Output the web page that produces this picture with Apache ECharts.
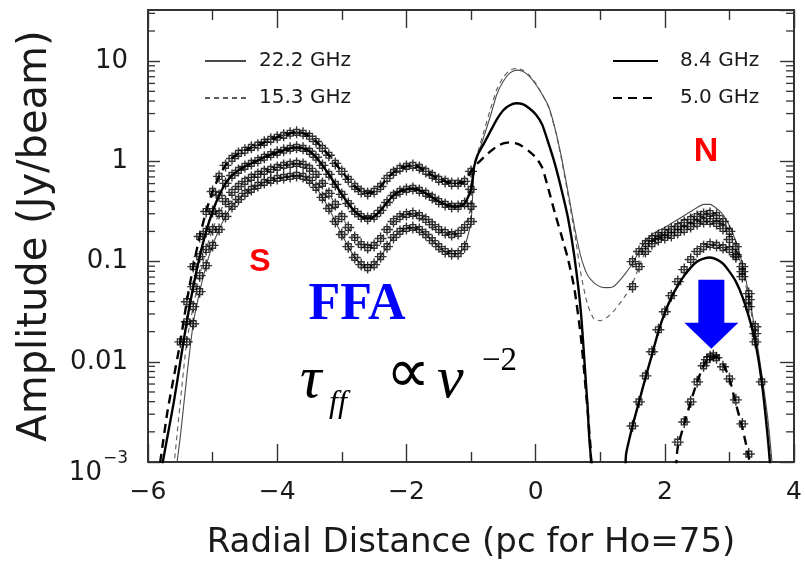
<!DOCTYPE html>
<html>
<head>
<meta charset="utf-8">
<script src="https://cdn.jsdelivr.net/npm/echarts@6/dist/echarts.min.js"></script>
<style>
  html, body { margin: 0; padding: 0; background: #fff; }
  #chart { width: 805px; height: 567px; }
</style>
</head>
<body>
<div id="chart"></div>
<script>
// Radial positions of the sampled points along the southern jet (pc)
const xS = [-5.5, -5.4, -5.3, -5.2, -5.1, -5.0, -4.9, -4.8, -4.7, -4.6, -4.5, -4.4, -4.3, -4.2, -4.1, -4.0,
            -3.9, -3.8, -3.7, -3.6, -3.5, -3.4, -3.3, -3.2, -3.1, -3.0, -2.9, -2.8, -2.7, -2.6, -2.5, -2.4,
            -2.3, -2.2, -2.1, -2.0, -1.9, -1.8, -1.7, -1.6, -1.5, -1.4, -1.3, -1.2, -1.1, -1.0];

// Southern jet amplitudes (Jy/beam), one array per frequency
const s50 = [0.0158, 0.0398, 0.0891, 0.178, 0.316, 0.501, 0.708, 0.912, 1.07, 1.20, 1.29, 1.38, 1.45, 1.55, 1.66, 1.74,
             1.82, 1.91, 1.95, 1.91, 1.78, 1.58, 1.35, 1.15, 0.955, 0.794, 0.661, 0.562, 0.501, 0.479, 0.501, 0.562,
             0.676, 0.776, 0.851, 0.891, 0.912, 0.871, 0.794, 0.724, 0.661, 0.631, 0.603, 0.603, 0.631, 0.794];
const s84 = [null, 0.0251, 0.0562, 0.112, 0.200, 0.316, 0.457, 0.603, 0.724, 0.813, 0.891, 0.955, 1.02, 1.10, 1.17, 1.23,
             1.29, 1.35, 1.38, 1.35, 1.26, 1.10, 0.912, 0.741, 0.589, 0.468, 0.380, 0.316, 0.282, 0.269, 0.282, 0.324,
             0.389, 0.457, 0.501, 0.525, 0.537, 0.513, 0.479, 0.437, 0.398, 0.372, 0.355, 0.355, 0.380, 0.525];
const s153 = [null, 0.0158, 0.0355, 0.0724, 0.132, 0.209, 0.302, 0.398, 0.490, 0.562, 0.631, 0.692, 0.741, 0.794, 0.832, 0.871,
              0.912, 0.933, 0.955, 0.933, 0.851, 0.741, 0.603, 0.479, 0.372, 0.282, 0.219, 0.174, 0.148, 0.138, 0.145, 0.170,
              0.209, 0.251, 0.282, 0.295, 0.302, 0.288, 0.263, 0.234, 0.209, 0.195, 0.186, 0.191, 0.219, 0.355];
const s222 = [null, null, 0.0240, 0.0501, 0.0912, 0.145, 0.209, 0.282, 0.355, 0.417, 0.479, 0.525, 0.575, 0.617, 0.646, 0.676,
              0.692, 0.708, 0.724, 0.708, 0.646, 0.550, 0.437, 0.339, 0.251, 0.186, 0.141, 0.110, 0.0933, 0.0871, 0.0933, 0.112,
              0.141, 0.174, 0.200, 0.214, 0.219, 0.209, 0.186, 0.162, 0.141, 0.126, 0.120, 0.120, 0.141, 0.251];

// Northern (counter-jet) measured points [pc, Jy/beam]
const n222 = [[1.5, 0.100], [1.6, 0.126], [1.7, 0.151], [1.8, 0.170], [1.9, 0.182], [2.0, 0.195], [2.1, 0.209],
              [2.2, 0.224], [2.3, 0.245], [2.4, 0.263], [2.5, 0.282], [2.6, 0.295], [2.7, 0.302], [2.8, 0.288],
              [2.9, 0.251], [3.0, 0.200], [3.1, 0.141], [3.2, 0.0891], [3.3, 0.0479], [3.4, 0.0224]];
const n153 = [[1.5, 0.0562], [1.6, 0.0891], [1.7, 0.126], [1.8, 0.151], [1.9, 0.166], [2.0, 0.174], [2.1, 0.182],
              [2.2, 0.195], [2.3, 0.209], [2.4, 0.224], [2.5, 0.240], [2.6, 0.251], [2.7, 0.251], [2.8, 0.240],
              [2.9, 0.214], [3.0, 0.166], [3.1, 0.117], [3.2, 0.0708], [3.3, 0.0355], [3.4, 0.0158]];
const n84 = [[1.5, 0.00229], [1.6, 0.00398], [1.7, 0.00724], [1.8, 0.0126], [1.9, 0.0209], [2.0, 0.0316], [2.1, 0.0457],
             [2.2, 0.0631], [2.3, 0.0832], [2.4, 0.105], [2.5, 0.126], [2.6, 0.141], [2.7, 0.148], [2.8, 0.145],
             [2.9, 0.138], [3.0, 0.132], [3.1, 0.112], [3.2, 0.0794], [3.3, 0.0417], [3.4, 0.0191], [3.5, 0.00631]];
const n50 = [[2.2, 0.00158], [2.3, 0.00251], [2.4, 0.00398], [2.5, 0.00631], [2.6, 0.00912], [2.65, 0.0105],
             [2.7, 0.0112], [2.75, 0.0115], [2.8, 0.0110], [2.9, 0.00891], [3.0, 0.00676], [3.1, 0.00417],
             [3.2, 0.00240], [3.3, 0.00120]];

// Model curves: outer southern tail, then core and northern part [pc, Jy/beam]
const tail50 = [[-5.85, 0.0007], [-5.8, 0.00112], [-5.7, 0.00316], [-5.6, 0.00708]];
const tail84 = [[-5.8, 0.00079], [-5.7, 0.00178], [-5.6, 0.00398], [-5.5, 0.0100]];
const tail153 = [[-5.6, 0.00089], [-5.5, 0.00398]];
const tail222 = [[-5.57, 0.0008], [-5.5, 0.00178], [-5.4, 0.00708]];

const core222 = [[-0.95, 0.891], [-0.9, 1.12], [-0.8, 1.78], [-0.7, 2.82], [-0.6, 4.68], [-0.5, 6.31], [-0.4, 7.59],
  [-0.3, 8.13], [-0.2, 7.94], [-0.1, 7.08], [0.0, 5.89], [0.1, 4.68], [0.2, 3.55], [0.3, 2.14], [0.4, 1.10],
  [0.5, 0.501], [0.6, 0.224], [0.7, 0.112], [0.8, 0.0741], [0.9, 0.0617], [1.0, 0.0562], [1.1, 0.0550],
  [1.2, 0.0562], [1.3, 0.0646], [1.4, 0.0776], [1.5, 0.0955], [1.6, 0.126], [1.7, 0.158], [1.8, 0.186],
  [1.9, 0.204], [2.0, 0.219], [2.1, 0.240], [2.2, 0.263], [2.3, 0.288], [2.4, 0.316], [2.5, 0.347], [2.6, 0.372],
  [2.7, 0.372], [2.8, 0.339], [2.9, 0.295], [3.0, 0.229], [3.1, 0.158], [3.2, 0.0955], [3.3, 0.0468],
  [3.4, 0.0200], [3.5, 0.00759], [3.6, 0.00251], [3.7, 0.0005]];
const core153 = [[-0.95, 0.891], [-0.9, 1.20], [-0.8, 2.00], [-0.7, 3.31], [-0.6, 5.25], [-0.5, 6.92], [-0.4, 8.13],
  [-0.3, 8.51], [-0.2, 8.13], [-0.1, 7.24], [0.0, 6.03], [0.1, 4.68], [0.2, 3.47], [0.3, 2.09], [0.4, 1.05],
  [0.5, 0.468], [0.6, 0.200], [0.7, 0.0759], [0.8, 0.0380], [0.9, 0.0269], [1.0, 0.0257], [1.1, 0.0275],
  [1.2, 0.0316], [1.3, 0.0380], [1.4, 0.0468], [1.5, 0.0603], [1.6, 0.0891], [1.7, 0.126], [1.8, 0.158],
  [1.9, 0.182], [2.0, 0.200], [2.1, 0.219], [2.2, 0.240], [2.3, 0.263], [2.4, 0.288], [2.5, 0.309], [2.6, 0.324],
  [2.7, 0.324], [2.8, 0.295], [2.9, 0.251], [3.0, 0.200], [3.1, 0.138], [3.2, 0.0832], [3.3, 0.0417],
  [3.4, 0.0174], [3.5, 0.00631], [3.6, 0.00200], [3.7, 0.0005]];
const core84 = [[-0.95, 0.891], [-0.9, 1.15], [-0.8, 1.51], [-0.7, 2.00], [-0.6, 2.63], [-0.5, 3.24], [-0.4, 3.63],
  [-0.3, 3.80], [-0.2, 3.72], [-0.1, 3.39], [0.0, 2.95], [0.1, 2.34], [0.2, 1.51], [0.3, 0.933], [0.4, 0.525],
  [0.5, 0.275], [0.6, 0.112], [0.7, 0.0316], [0.8, 0.00398], [0.9, 0.00079], [1.35, 0.0005], [1.4, 0.0012],
  [1.5, 0.00229], [1.6, 0.00398], [1.7, 0.00692], [1.8, 0.0117], [1.9, 0.0200], [2.0, 0.0309], [2.1, 0.0437],
  [2.2, 0.0575], [2.3, 0.0724], [2.4, 0.0871], [2.5, 0.100], [2.6, 0.107], [2.7, 0.110], [2.8, 0.105],
  [2.9, 0.0955], [3.0, 0.0794], [3.1, 0.0631], [3.2, 0.0447], [3.3, 0.0282], [3.4, 0.0158], [3.5, 0.00631],
  [3.6, 0.00158], [3.65, 0.00063]];
const core50 = [[-0.95, 0.891], [-0.9, 0.955], [-0.8, 1.10], [-0.7, 1.26], [-0.6, 1.41], [-0.5, 1.51], [-0.4, 1.55],
  [-0.3, 1.51], [-0.2, 1.41], [-0.1, 1.26], [0.0, 1.10], [0.1, 0.871], [0.2, 0.525], [0.3, 0.302], [0.4, 0.182],
  [0.5, 0.107], [0.6, 0.0537], [0.7, 0.0178], [0.8, 0.00355], [0.85, 0.00141], [0.9, 0.00063], [2.1, 0.00063],
  [2.2, 0.00141], [2.3, 0.00240], [2.4, 0.00398], [2.5, 0.00631], [2.6, 0.00912], [2.7, 0.0112], [2.8, 0.0112],
  [2.9, 0.00955], [3.0, 0.00676], [3.1, 0.00380], [3.2, 0.00219], [3.3, 0.00110], [3.35, 0.00063]];

// Axis ticks
const yMin = 0.001, yMax = 32.4;
const xMin = -6, xMax = 4;
const xTickLabels = [-6, -4, -2, 0, 2, 4];
const yMinorTicks = [0.002, 0.003, 0.004, 0.005, 0.006, 0.007, 0.008, 0.009,
                     0.02, 0.03, 0.04, 0.05, 0.06, 0.07, 0.08, 0.09,
                     0.2, 0.3, 0.4, 0.5, 0.6, 0.7, 0.8, 0.9,
                     2, 3, 4, 5, 6, 7, 8, 9, 20, 30];

function pairsFrom(xs, ys) {
  const out = [];
  xs.forEach((x, i) => { if (ys[i] != null) out.push([x, ys[i]]); });
  return out;
}

const S50 = pairsFrom(xS, s50), S84 = pairsFrom(xS, s84), S153 = pairsFrom(xS, s153), S222 = pairsFrom(xS, s222);

const AX = '#333333';
const TXT = '#1a1a1a';
const FONT = 'DejaVu Sans';

function modelLine(name, data, color, width, type) {
  return {
    name, type: 'line', data, xAxisIndex: 0, yAxisIndex: 0,
    showSymbol: false, symbol: 'none', smooth: 0.2, clip: true,
    lineStyle: { color, width, type }, itemStyle: { color }, z: 2
  };
}
function marks(name, data) {
  return {
    name, type: 'scatter', data, xAxisIndex: 0, yAxisIndex: 0, clip: true,
    symbol: 'path://M0,5H10M5,0V10M2.6,2.6H7.4V7.4H2.6Z', symbolSize: 12,
    itemStyle: { color: 'rgba(0,0,0,0)', borderColor: '#000', borderWidth: 1.4 }, z: 3
  };
}

function xAxisCfg(pos, showLabel) {
  return {
    type: 'value', position: pos, min: xMin, max: xMax, interval: 2,
    axisLine: { show: true, onZero: false, lineStyle: { color: AX, width: 2 } },
    axisTick: { show: true, inside: true, length: 18, lineStyle: { color: AX, width: 1.4 } },
    minorTick: { show: true, splitNumber: 2, length: 10, lineStyle: { color: AX, width: 1.4 } },
    splitLine: { show: false }, minorSplitLine: { show: false },
    axisLabel: {
      show: showLabel, fontSize: 25, margin: 18, color: TXT, fontFamily: FONT,
      customValues: xTickLabels,
      formatter: v => (v < 0 ? '\u2212' + Math.abs(v) : String(v))
    },
    name: showLabel ? 'Radial Distance (pc for Ho=75)' : '',
    nameLocation: 'middle', nameGap: 64,
    nameTextStyle: { fontSize: 34, color: TXT, fontFamily: FONT }
  };
}

// Decade ticks and labels on a log axis
function yAxisCfg(pos, showLabel) {
  const cfg = {
    type: 'log', logBase: 10, position: pos, min: yMin, max: yMax, interval: 1,
    axisLine: { show: true, onZero: false, lineStyle: { color: AX, width: 2 } },
    axisTick: { show: true, inside: true, length: pos === 'left' ? 12 : 14, lineStyle: { color: AX, width: 1.4 } },
    splitLine: { show: false }, minorSplitLine: { show: false },
    axisLabel: { show: false }
  };
  if (showLabel) {
    cfg.axisLabel = {
      show: true, fontSize: 26, margin: 20, color: TXT, fontFamily: FONT, showMaxLabel: false,
      formatter: v => {
        if (Math.abs(v - 0.001) < 1e-9) return '{b|10}{s|\u22123}';
        if (v > 20) return '';
        return String(+v.toPrecision(3));
      },
      rich: {
        b: { fontSize: 26, fontFamily: FONT, color: TXT, padding: [22, 0, 0, 0] },
        s: { fontSize: 17, fontFamily: FONT, color: TXT, padding: [0, 0, 6, 1] }
      }
    };
    cfg.name = 'Amplitude (Jy/beam)';
    cfg.nameLocation = 'middle';
    cfg.nameGap = 92;
    cfg.nameTextStyle = { fontSize: 40, color: TXT, fontFamily: FONT };
  }
  return cfg;
}

const chart = echarts.init(document.getElementById('chart'), null, { renderer: 'canvas' });

const legendBase = {
  orient: 'vertical', selectedMode: false, top: 46, itemHeight: 14, itemGap: 17,
  itemStyle: { opacity: 0 }
};

const option = {
  animation: false,
  backgroundColor: '#fff',
  grid: { left: 148, right: 8, top: 10, bottom: 105, containLabel: false },
  xAxis: [xAxisCfg('bottom', true), xAxisCfg('top', false)],
  yAxis: [yAxisCfg('left', true), yAxisCfg('right', false)],
  legend: [
    Object.assign({}, legendBase, { data: ['22.2 GHz', '15.3 GHz'], left: 199, itemWidth: 41,
      textStyle: { fontSize: 20, fontFamily: FONT, color: TXT, padding: [6, 0, 0, 8] } }),
    Object.assign({}, legendBase, { data: ['8.4 GHz', '5.0 GHz'], left: 607, itemWidth: 45,
      textStyle: { fontSize: 20, fontFamily: FONT, color: TXT, padding: [6, 0, 0, 17] } })
  ],
  series: [
    modelLine('22.2 GHz', tail222.concat(S222, core222), '#4a4a4a', 1.1, 'solid'),
    modelLine('15.3 GHz', tail153.concat(S153, core153), '#5a5a5a', 1.1, [5, 4]),
    modelLine('8.4 GHz', tail84.concat(S84, core84), '#000', 2.4, 'solid'),
    modelLine('5.0 GHz', tail50.concat(S50, core50), '#000', 2.4, [9, 6]),
    marks('22.2 GHz data', S222.concat(n222)),
    marks('15.3 GHz data', S153.concat(n153)),
    marks('8.4 GHz data', S84.concat(n84)),
    marks('5.0 GHz data', S50.concat(n50))
  ]
};
chart.setOption(option);

// Intermediate log ticks (2..9 per decade) on both vertical frame edges, placed through the chart scales
const finder = { xAxisIndex: 0, yAxisIndex: 0 };
const minorTickGraphics = [];
yMinorTicks.forEach(v => {
  const pl = chart.convertToPixel(finder, [xMin, v]);
  const pr = chart.convertToPixel(finder, [xMax, v]);
  minorTickGraphics.push(
    { type: 'line', silent: true, z: 20,
      shape: { x1: pl[0], y1: pl[1], x2: pl[0] + 7, y2: pl[1] },
      style: { stroke: AX, lineWidth: 1.3 } },
    { type: 'line', silent: true, z: 20,
      shape: { x1: pr[0], y1: pr[1], x2: pr[0] - 8, y2: pr[1] },
      style: { stroke: AX, lineWidth: 1.3 } }
  );
});

// Annotations: region labels, absorption formula and arrow pointing at the 5 GHz northern peak
const tip = chart.convertToPixel(finder, [2.72, 0.0135]);
const arrow = [
  [tip[0], tip[1]], [tip[0] - 27, tip[1] - 26], [tip[0] - 13, tip[1] - 26], [tip[0] - 13, tip[1] - 69],
  [tip[0] + 13, tip[1] - 69], [tip[0] + 13, tip[1] - 26], [tip[0] + 27, tip[1] - 26]
];
const serif = 'Liberation Serif';
chart.setOption({
  graphic: [
    { type: 'polygon', shape: { points: arrow }, style: { fill: '#0000ff' }, z: 10 },
    { type: 'text', x: 260, y: 262, z: 10,
      style: { text: 'S', fill: '#ff0000', font: 'bold 32px "Liberation Sans"', align: 'center', verticalAlign: 'middle' } },
    { type: 'text', x: 706, y: 152, z: 10,
      style: { text: 'N', fill: '#ff0000', font: 'bold 34px "Liberation Sans"', align: 'center', verticalAlign: 'middle' } },
    { type: 'text', x: 357, y: 306, z: 10,
      style: { text: 'FFA', fill: '#0000ff', font: 'bold 52px "' + serif + '"', align: 'center', verticalAlign: 'middle' } },
    { type: 'text', x: 300, y: 381, z: 10,
      style: { text: '\u03c4', fill: '#000', font: 'italic 60px "' + serif + '"', align: 'left', verticalAlign: 'middle' } },
    { type: 'text', x: 329, y: 404, z: 10,
      style: { text: 'ff', fill: '#000', font: 'italic 32px "' + serif + '"', align: 'left', verticalAlign: 'middle' } },
    { type: 'text', x: 386, y: 376, z: 10,
      style: { text: '\u221d', fill: '#000', font: '62px "' + serif + '"', align: 'left', verticalAlign: 'middle' } },
    { type: 'text', x: 437, y: 381, z: 10,
      style: { text: '\u03bd', fill: '#000', font: 'italic 60px "' + serif + '"', align: 'left', verticalAlign: 'middle' } },
    { type: 'text', x: 482, y: 361, z: 10,
      style: { text: '\u22122', fill: '#000', font: '33px "' + serif + '"', align: 'left', verticalAlign: 'middle' } }
  ].concat(minorTickGraphics)
});
</script>
</body>
</html>
